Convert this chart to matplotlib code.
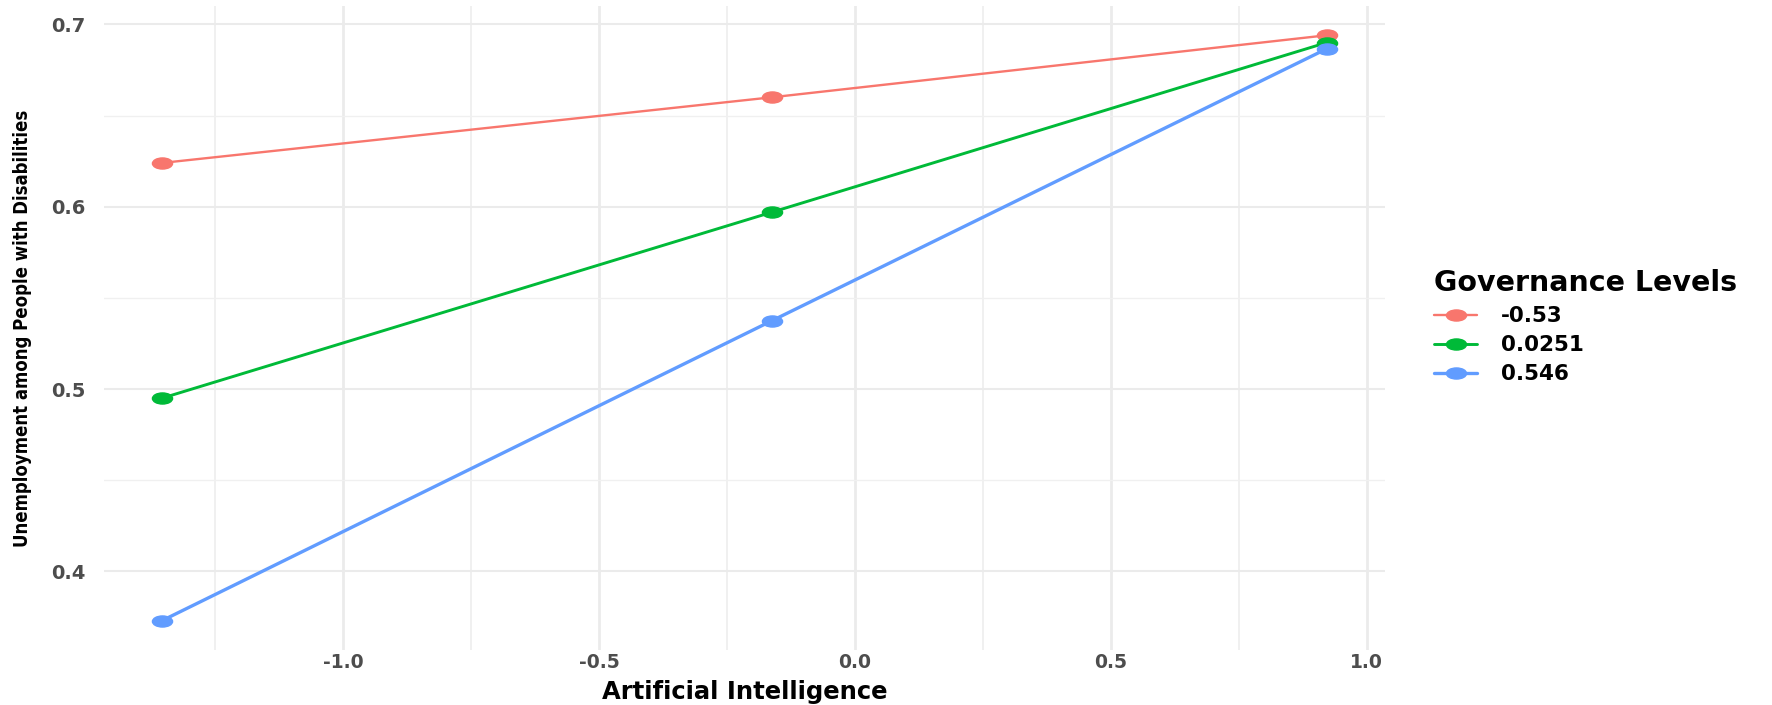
import numpy as np
import matplotlib
matplotlib.use("Agg")
import matplotlib.pyplot as plt
from matplotlib import font_manager as fm
from matplotlib.path import Path
from matplotlib.transforms import Affine2D

# predicted values at three levels of AI, one line per governance level
ai_levels = [-1.354, -0.162, 0.922]
governance_labels = ["-0.53", "0.0251", "0.546"]
pred_low = [0.624, 0.660, 0.694]
pred_mid = [0.495, 0.597, 0.690]
pred_high = [0.373, 0.5375, 0.6866]

x_ticks = [-1.0, -0.5, 0.0, 0.5, 1.0]
y_ticks = [0.4, 0.5, 0.6, 0.7]

colors = ["#F8766D", "#00BA38", "#619CFF"]
widths = [1.7, 2.1, 2.4]

# points in the reference look squashed, so use a flat ellipse marker
ellipse = Path.unit_circle().transformed(Affine2D().scale(1.0, 0.55))

# y title in the reference is a condensed face; use one if it is installed
narrow = None
for f in fm.fontManager.ttflist:
    if "Narrow" in f.name or "Condensed" in f.name:
        narrow = dict(family=f.name, stretch="normal")
        break
    if f.stretch in ("condensed", "semi-condensed") and f.weight in ("bold", 700):
        narrow = dict(family=f.name, stretch=f.stretch)
        break
if narrow is None:
    narrow = dict(family="DejaVu Sans", stretch="normal")

W, H = 1772, 705
fig = plt.figure(figsize=(W / 100, H / 100), dpi=100)
ax = fig.add_axes([103.6 / W, 1 - 650 / H, (1385 - 103.6) / W, (650 - 6) / H])

series = [pred_low, pred_mid, pred_high]
for vals, lab, c, lw in zip(series, governance_labels, colors, widths):
    ax.plot(ai_levels, vals, color=c, lw=lw, marker=ellipse, markersize=14.5,
            label=lab, solid_capstyle="round")

x_span = max(ai_levels) - min(ai_levels)
ax.set_xlim(min(ai_levels) - 0.05 * x_span, max(ai_levels) + 0.05 * x_span)
all_y = pred_low + pred_mid + pred_high
y_span = max(all_y) - min(all_y)
ax.set_ylim(min(all_y) - 0.05 * y_span, max(all_y) + 0.05 * y_span)

ax.set_xticks(x_ticks)
ax.set_yticks(y_ticks)
ax.set_xticks([-1.25, -0.75, -0.25, 0.25, 0.75], minor=True)
ax.set_yticks([0.45, 0.55, 0.65], minor=True)
ax.set_xticklabels([f"{v:.1f}" for v in x_ticks])
ax.set_yticklabels([f"{v:.1f}" for v in y_ticks])

for s in ax.spines.values():
    s.set_visible(False)
ax.set_axisbelow(True)
ax.xaxis.grid(True, which="major", color="#EBEBEB", lw=2.0)
ax.xaxis.grid(True, which="minor", color="#F0F0F0", lw=1.4)
ax.yaxis.grid(True, which="major", color="#EBEBEB", lw=1.5)
ax.yaxis.grid(True, which="minor", color="#F0F0F0", lw=1.0)
ax.tick_params(which="both", length=0)
ax.tick_params(axis="y", pad=13, labelsize=14, labelcolor="#4D4D4D")
ax.tick_params(axis="x", pad=2, labelsize=13.5, labelcolor="#4D4D4D")
for t in ax.get_xticklabels() + ax.get_yticklabels():
    t.set_fontweight("bold")
    t.set_family("DejaVu Sans")

ax.set_xlabel("Artificial Intelligence", fontsize=17.5, fontweight="bold",
              family="DejaVu Sans", va="baseline")
ax.xaxis.set_label_coords(0.5, (650 - 699) / 644)
ylab = ax.set_ylabel("Unemployment among People with Disabilities", fontsize=15,
                     fontweight="bold", family=narrow["family"],
                     fontstretch=narrow["stretch"], va="center")
ax.yaxis.set_label_coords((23 - 103.6) / (1385 - 103.6), 0.5)

# shrink the y title so it spans roughly the height it has in the reference
fig.canvas.draw()
span = ylab.get_window_extent(fig.canvas.get_renderer()).height
if span > 440:
    ylab.set_fontsize(15 * 440 / span)

leg = fig.legend(loc="upper left", bbox_to_anchor=(1434 / W, 1 - 269 / H),
                 frameon=False, title="Governance Levels",
                 title_fontproperties={"weight": "bold", "size": 20.5, "family": "DejaVu Sans"},
                 prop={"weight": "bold", "size": 15.5, "family": "DejaVu Sans"},
                 handlelength=2.0, handletextpad=1.1, labelspacing=0.42,
                 borderpad=0, borderaxespad=0, alignment="left")

fig.savefig("out.png", dpi=100, facecolor="white")
